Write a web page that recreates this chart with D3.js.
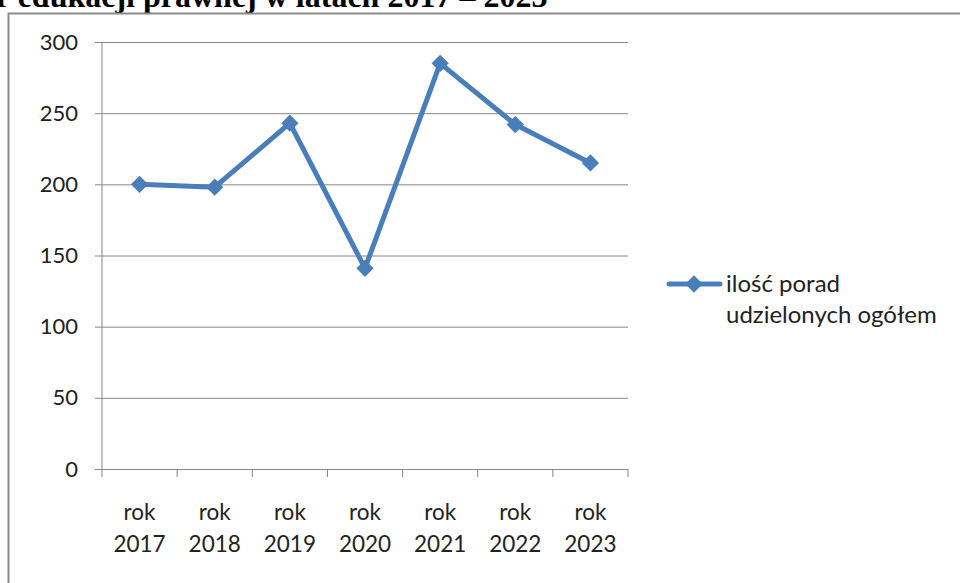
<!DOCTYPE html>
<html>
<head>
<meta charset="utf-8">
<script src="https://cdn.jsdelivr.net/npm/d3@7"></script>
<style>
  body { margin: 0; background: #fff; }
  svg { display: block; }
</style>
</head>
<body>
<div id="chart"></div>
<script>
const categories = ['rok 2017', 'rok 2018', 'rok 2019', 'rok 2020', 'rok 2021', 'rok 2022', 'rok 2023'];
const values = [200, 198, 243, 141, 285, 242, 215];
const yTicks = [0, 50, 100, 150, 200, 250, 300];
const seriesName = ['ilość porad', 'udzielonych ogółem'];
const title = 'r edukacji prawnej w latach 2017 – 2023';

const w = 960, h = 583;
const plotLeft = 102, plotRight = 628, plotTop = 42, plotBottom = 469;
const blue = '#4a7ebb', grey = '#868686';
const font = 'Lato, "Open Sans", sans-serif';

const svg = d3.select('#chart').append('svg')
    .attr('width', w)
    .attr('height', h);

// title, cut off at the top of the picture
svg.append('text')
    .attr('x', -4)
    .attr('y', 7)
    .attr('font-family', '"Liberation Serif", "Times New Roman", serif')
    .attr('font-weight', 'bold')
    .attr('font-size', 32)
    .text(title);

// chart frame
svg.append('rect')
    .attr('x', 8.5)
    .attr('y', 13.5)
    .attr('width', 1000)
    .attr('height', 700)
    .attr('fill', 'none')
    .attr('stroke', '#8c8c8c')
    .attr('stroke-width', 2);

const x = d3.scaleBand()
    .domain(categories)
    .range([plotLeft, plotRight]);

const y = d3.scaleLinear()
    .domain([0, 300])
    .range([plotBottom, plotTop]);

// gridlines + y axis
const yAxis = d3.axisLeft(y)
    .tickValues(yTicks)
    .tickSize(-(plotRight - plotLeft))
    .tickPadding(24)
    .tickFormat(d3.format('d'));

const gy = svg.append('g')
    .attr('transform', `translate(${plotLeft},0)`)
    .call(yAxis);
gy.select('.domain').remove();
gy.selectAll('.tick line')
    .attr('x1', -7)
    .attr('stroke', grey);
gy.selectAll('.tick text')
    .attr('font-family', font)
    .attr('font-size', 22)
    .attr('fill', '#222');

// y axis line
svg.append('line')
    .attr('x1', plotLeft).attr('x2', plotLeft)
    .attr('y1', plotTop).attr('y2', plotBottom + 8)
    .attr('stroke', grey);

// x axis ticks at category boundaries
const bounds = categories.map(c => x(c)).concat([plotRight]);
svg.append('g').selectAll('line')
    .data(bounds.slice(1))
    .enter()
    .append('line')
    .attr('x1', d => d).attr('x2', d => d)
    .attr('y1', plotBottom).attr('y2', plotBottom + 8)
    .attr('stroke', grey);

// x labels
const xl = svg.append('g').selectAll('text')
    .data(categories)
    .enter()
    .append('text')
    .attr('text-anchor', 'middle')
    .attr('font-family', font)
    .attr('font-size', 22.5)
    .attr('fill', '#222');
xl.each(function (d) {
    const parts = d.split(' ');
    const t = d3.select(this);
    const cx = x(d) + x.bandwidth() / 2;
    t.append('tspan').attr('x', cx).attr('y', 520).text(parts[0]);
    t.append('tspan').attr('x', cx).attr('y', 552).text(parts[1]);
});

// series line
const line = d3.line()
    .x((d, i) => x(categories[i]) + x.bandwidth() / 2)
    .y(d => y(d));

svg.append('path')
    .datum(values)
    .attr('d', line)
    .attr('fill', 'none')
    .attr('stroke', blue)
    .attr('stroke-width', 5)
    .attr('stroke-linejoin', 'round');

const diamond = d3.symbol().type(d3.symbolDiamond2).size(190);
svg.append('g').selectAll('path')
    .data(values)
    .enter()
    .append('path')
    .attr('d', diamond)
    .attr('transform', (d, i) => `translate(${x(categories[i]) + x.bandwidth() / 2},${y(d)})`)
    .attr('fill', blue);

// legend
const lg = svg.append('g');
lg.append('line')
    .attr('x1', 669).attr('x2', 720)
    .attr('y1', 284).attr('y2', 284)
    .attr('stroke', blue)
    .attr('stroke-width', 5)
    .attr('stroke-linecap', 'round');
lg.append('path')
    .attr('d', diamond)
    .attr('transform', 'translate(694,284)')
    .attr('fill', blue);
lg.selectAll('text')
    .data(seriesName)
    .enter()
    .append('text')
    .attr('x', 726)
    .attr('y', (d, i) => 292 + i * 31)
    .attr('font-family', font)
    .attr('font-size', 24)
    .attr('fill', '#222')
    .text(d => d);
</script>
</body>
</html>
